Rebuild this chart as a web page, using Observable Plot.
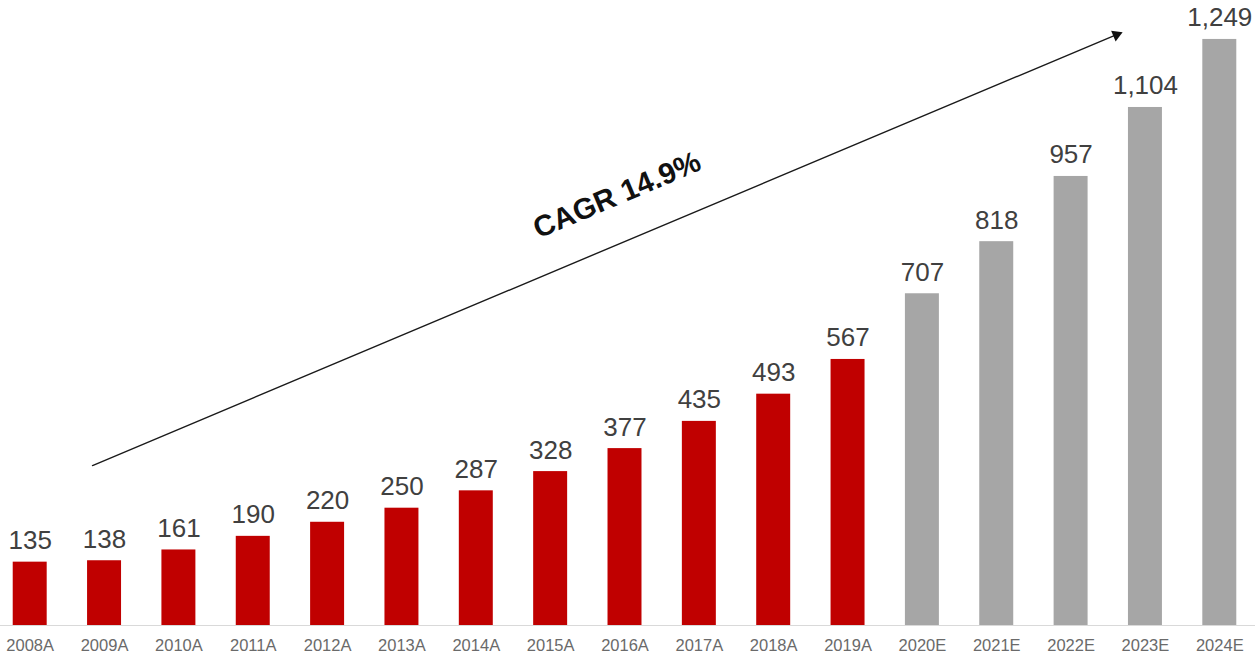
<!DOCTYPE html>
<html>
<head>
<meta charset="utf-8">
<script src="https://cdn.jsdelivr.net/npm/d3@7"></script>
<script src="https://cdn.jsdelivr.net/npm/@observablehq/plot@0.6"></script>
<style>
  html, body { margin: 0; padding: 0; background: #ffffff; }
  #chart { width: 1255px; height: 659px; overflow: hidden; }
</style>
</head>
<body>
<div id="chart"></div>
<script>
// ---- data ----
const years = ["2008A","2009A","2010A","2011A","2012A","2013A","2014A","2015A","2016A","2017A","2018A","2019A","2020E","2021E","2022E","2023E","2024E"];
const values = [135,138,161,190,220,250,287,328,377,435,493,567,707,818,957,1104,1249];
const kinds = ["Actual","Actual","Actual","Actual","Actual","Actual","Actual","Actual","Actual","Actual","Actual","Actual","Estimate","Estimate","Estimate","Estimate","Estimate"];
const kindColors = ["#c00000", "#a6a6a6"];
const cagrLabel = "CAGR 14.9%";
// annotation arrow (data space): from 2008A to 2024E
const arrowFrom = {year: "2008A", value: 285};
const arrowTo = {year: "2024E", value: 1352};
const arrowHeadAt = {year: "2023E", value: 1259};
const cagrAt = {year: "2016A", value: 917};

const data = years.map((y, i) => ({year: y, value: values[i], kind: kinds[i]}));
const fmt = d3.format(",");

const chart = Plot.plot({
  width: 1255,
  height: 659,
  marginLeft: 0,
  marginRight: 0,
  marginTop: 0,
  marginBottom: 34,
  style: {fontFamily: "'Liberation Sans', Arial, sans-serif", background: "#ffffff", overflow: "visible"},
  x: {type: "band", domain: years, range: [0, 1249], paddingInner: 0.543, paddingOuter: 0.171, round: false, label: null},
  y: {domain: [0, 1332], axis: null},
  color: {domain: ["Actual", "Estimate"], range: kindColors},
  marks: [
    Plot.barY(data, {x: "year", y: "value", fill: "kind"}),
    Plot.ruleY([0], {stroke: "#d9d9d9", strokeWidth: 1.2}),
    Plot.text(data, {x: "year", y: "value", text: d => fmt(d.value), lineAnchor: "bottom", dy: -13, fontSize: 26, fill: "#404040"}),
    Plot.axisX({tickSize: 0, tickPadding: 14, fontSize: 16.5, color: "#6a6a6a", label: null}),
    Plot.arrow([{}], {
      x1: () => arrowFrom.year, y1: () => arrowFrom.value,
      x2: () => arrowTo.year, y2: () => arrowTo.value,
      insetStart: 67.6, insetEnd: 110,
      stroke: "#1a1a1a", strokeWidth: 1.4, headLength: 0
    }),
    Plot.dot([{}], {x: () => arrowHeadAt.year, y: () => arrowHeadAt.value, dx: -29, symbol: "triangle", r: 4.3, rotate: 67.2, fill: "#111111", stroke: "none"}),
    Plot.text([{}], {x: () => cagrAt.year, y: () => cagrAt.value, text: () => cagrLabel, dx: -8, rotate: -23, fontSize: 29.5, fontWeight: "bold", fill: "#111111"})
  ]
});
document.getElementById("chart").appendChild(chart);
</script>
</body>
</html>
